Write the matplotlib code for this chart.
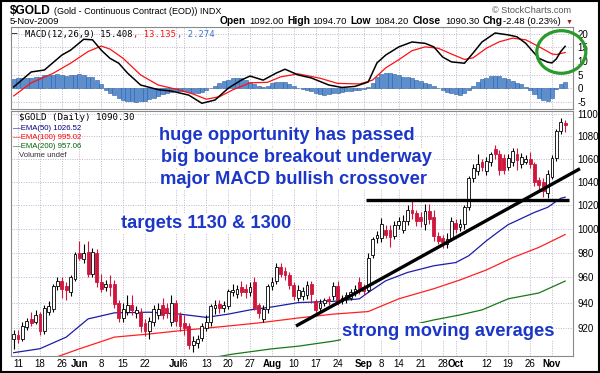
import numpy as np
import pandas as pd
import matplotlib
matplotlib.use("Agg")
from matplotlib import pyplot as plt
from matplotlib.patches import Ellipse, Rectangle
from matplotlib.ticker import NullLocator, FuncFormatter

# trading days shown (May 8 - Nov 5 2009)
holidays = ["2009-05-25", "2009-07-03", "2009-09-07"]
days = pd.bdate_range("2009-05-08", "2009-11-05")
days = days[~days.isin(pd.to_datetime(holidays))]
pos = {d.strftime("%Y-%m-%d"): i for i, d in enumerate(days)}

opens = [911.5, 915, 912, 921, 927, 925, 931, 918, 933, 935, 953, 957, 953, 948, 959, 980, 975, 981, 963, 980,
         956, 952, 955, 955, 940, 928, 933, 938, 932, 933, 924, 918, 925, 930, 938, 936, 925, 940, 930, 924,
         922, 907, 909, 913, 920, 925, 936, 939, 936, 937, 948, 947, 952, 951, 948, 956, 938, 927, 935, 953,
         957, 968, 965, 962, 954, 944, 945, 946, 955, 941, 936, 940, 943, 945, 953, 941, 943, 944, 948, 956,
         952, 950, 978, 992, 992, 999, 999, 994, 1003, 999, 1006, 1016, 1013, 1010, 1004, 1015, 1010, 994, 992, 987,
         992, 1005, 1001, 1004, 1018, 1043, 1049, 1057, 1049, 1057, 1069, 1064, 1061, 1053, 1057, 1064, 1055, 1057, 1060, 1055,
         1041, 1040, 1030, 1044, 1061, 1085, 1092]
highs = [919, 919, 925, 928, 933, 934, 933, 938, 941, 955, 960, 960, 956, 962, 981, 990, 987, 990, 984, 983,
         963, 958, 962, 958, 942, 940, 946, 946, 937, 936, 927, 929, 938, 940, 944, 940, 946, 942, 933, 930,
         924, 914, 915, 924, 930, 939, 942, 942, 941, 951, 955, 954, 957, 955, 956, 960, 940, 938, 955, 960,
         972, 972, 968, 964, 956, 954, 952, 957, 957, 943, 943, 944, 945, 956, 957, 946, 948, 951, 954, 960,
         955, 980, 993, 998, 1009, 1003, 1003, 1006, 1010, 1011, 1020, 1024, 1016, 1014, 1021, 1021, 1016, 997, 995, 996,
         1010, 1008, 1008, 1020, 1045, 1055, 1064, 1060, 1062, 1066, 1072, 1068, 1064, 1064, 1070, 1070, 1065, 1063, 1066, 1057,
         1044, 1043, 1050, 1063, 1087, 1097, 1094.7]
lows = [904, 909, 910, 919, 922, 923, 915, 916, 930, 933, 950, 944, 942, 945, 957, 974, 972, 960, 960, 952,
        948, 949, 945, 936, 925, 925, 930, 930, 928, 917, 914, 912, 922, 927, 927, 928, 922, 922, 918, 915,
        904, 902, 905, 910, 918, 922, 931, 932, 933, 935, 945, 944, 945, 944, 945, 934, 928, 925, 932, 950,
        955, 960, 958, 951, 942, 941, 942, 943, 940, 930, 933, 937, 938, 942, 938, 939, 940, 942, 945, 947,
        946, 948, 976, 988, 989, 992, 985, 991, 1000, 996, 1003, 1008, 1002, 1001, 999, 1004, 990, 987, 984, 984,
        990, 996, 998, 1000, 1016, 1040, 1046, 1049, 1046, 1054, 1060, 1046, 1047, 1050, 1054, 1050, 1052, 1055, 1052, 1036,
        1033, 1027, 1026, 1042, 1058, 1082, 1084.2]
closes = [915.5, 912, 922, 926, 924, 930, 918, 936, 937, 953, 957, 951, 950, 960, 979, 976, 980, 963, 981, 956,
          951, 955, 952, 939, 928, 935, 938, 934, 934, 922, 918, 926, 935, 935, 930, 932, 940, 926, 922, 920,
          907, 910, 912, 922, 925, 937, 938, 936, 938, 949, 950, 951, 948, 948, 952, 936, 932, 935, 953, 956,
          968, 963, 962, 954, 945, 950, 949, 954, 947, 934, 940, 942, 941, 953, 940, 944, 946, 948, 951, 950,
          949, 976, 991, 995, 1004, 995, 993, 1003, 1006, 1006, 1016, 1013, 1006, 1006, 1015, 1008, 994, 990, 989, 991,
          1006, 1000, 1004, 1018, 1043, 1052, 1055, 1053, 1058, 1064, 1064, 1050, 1050, 1061, 1067, 1059, 1062, 1060, 1055, 1040,
          1037, 1032, 1047, 1061, 1085, 1092.8, 1090.3]

ema50_dates = ["2009-05-08", "2009-05-18", "2009-05-27", "2009-06-03", "2009-06-11", "2009-06-23", "2009-07-02",
               "2009-07-13", "2009-07-20", "2009-07-27", "2009-08-03", "2009-08-11", "2009-08-21", "2009-08-31",
               "2009-09-02", "2009-09-09", "2009-09-16", "2009-09-24", "2009-10-01", "2009-10-06", "2009-10-12",
               "2009-10-15", "2009-10-19", "2009-10-27", "2009-10-30", "2009-11-04", "2009-11-05"]
ema50 = [901.5, 904.5, 913.3, 927.3, 932, 932.5, 931, 928.5, 931, 934.3, 936.6, 940, 941, 943,
         948, 957.3, 964, 969.4, 972, 977.6, 989.8, 998, 1003.3, 1013.6, 1017.9, 1025.6, 1026.52]
ema100_dates = ["2009-05-22", "2009-06-01", "2009-06-08", "2009-06-11", "2009-06-23", "2009-07-07", "2009-07-20",
                "2009-07-29", "2009-08-11", "2009-08-21", "2009-09-02", "2009-09-14", "2009-09-24", "2009-10-02",
                "2009-10-12", "2009-10-20", "2009-10-28", "2009-11-05"]
ema100 = [898.5, 904.4, 909.9, 913.3, 915.7, 918.9, 921.8, 924.2, 928, 931, 933, 943, 951, 958,
          966, 976, 984.4, 995.02]
ema200_dates = ["2009-07-14", "2009-07-21", "2009-08-03", "2009-08-11", "2009-08-21", "2009-09-09", "2009-09-24",
                "2009-10-02", "2009-10-09", "2009-10-19", "2009-10-28", "2009-11-05"]
ema200 = [897.5, 900.4, 904.4, 906.4, 910.2, 918, 926.5, 930.4, 934.3, 943, 947.6, 957.06]

macd_dates = ["2009-05-08", "2009-05-14", "2009-05-19", "2009-05-26", "2009-05-28", "2009-06-02", "2009-06-04",
              "2009-06-08", "2009-06-10", "2009-06-12", "2009-06-16", "2009-06-19", "2009-06-25", "2009-06-30",
              "2009-07-07", "2009-07-10", "2009-07-15", "2009-07-20", "2009-07-23", "2009-07-27", "2009-07-30",
              "2009-08-04", "2009-08-06", "2009-08-11", "2009-08-14", "2009-08-20", "2009-08-25", "2009-08-28",
              "2009-09-02", "2009-09-04", "2009-09-09", "2009-09-14", "2009-09-17", "2009-09-22", "2009-09-24",
              "2009-09-28", "2009-09-30", "2009-10-05", "2009-10-07", "2009-10-09", "2009-10-14", "2009-10-19",
              "2009-10-21", "2009-10-23", "2009-10-28", "2009-10-30", "2009-11-02", "2009-11-03", "2009-11-04",
              "2009-11-05"]
macd = [0.5, 6.0, 6.7, 12.2, 14.0, 18.0, 17.8, 14.0, 11.0, 9.2, 5.6, 1.2, -0.5, -1.0,
        -2.5, -5.5, -4.3, 0.0, 3.0, 4.5, 3.0, 5.6, 7.0, 4.9, 3.8, 1.2, 0.3, 0.7,
        2.3, 9.3, 12.2, 15.2, 17.0, 16.5, 15.2, 11.5, 9.7, 9.2, 13.0, 17.0, 20.3, 19.6,
        18.9, 16.5, 11.0, 9.6, 9.3, 10.8, 13.5, 15.408]
signal_dates = ["2009-05-08", "2009-05-14", "2009-05-21", "2009-05-28", "2009-06-03", "2009-06-08", "2009-06-10",
                "2009-06-15", "2009-06-19", "2009-06-25", "2009-07-01", "2009-07-08", "2009-07-13", "2009-07-16",
                "2009-07-21", "2009-07-27", "2009-07-31", "2009-08-05", "2009-08-11", "2009-08-18", "2009-08-24",
                "2009-08-31", "2009-09-03", "2009-09-09", "2009-09-14", "2009-09-17", "2009-09-22", "2009-09-25",
                "2009-09-30", "2009-10-05", "2009-10-07", "2009-10-12", "2009-10-15", "2009-10-20", "2009-10-23",
                "2009-10-28", "2009-11-02", "2009-11-03", "2009-11-05"]
signal = [-2.8, 2.0, 5.5, 9.2, 13.5, 15.5, 14.4, 11.0, 4.9, 1.2, -0.3, -2.1, -4.0, -3.1,
          -0.6, 2.0, 2.2, 4.2, 5.3, 3.7, 1.8, 1.6, 3.0, 7.5, 10.5, 13.8, 15.2, 14.7,
          12.6, 10.6, 11.2, 14.7, 17.1, 18.4, 17.8, 15.3, 12.6, 12.4, 13.135]
hist = [3.5, 3.8, 3.8, 3.9, 3.8, 4.2, 4.3, 4.8, 4.9, 5.0, 5.1, 4.8, 4.6, 4.7, 4.9, 5.2, 5.0, 4.2, 4.0, 3.0,
        1.5, -0.5, -1.8, -2.5, -3.4, -4.2, -4.6, -4.8, -4.9, -4.8, -4.5, -4.1, -3.5, -2.8, -2.2, -1.6, -1.2, -0.9, -1.0, -0.9,
        -1.5, -1.8, -1.7, -1.2, -0.8, 0.2, 1.0, 1.8, 2.6, 3.2, 3.8, 3.9, 3.7, 3.0, 2.4, 1.5, 0.7, 0.5, 1.0, 1.8,
        2.3, 2.4, 2.2, 1.6, 0.8, 0.1, -0.4, -0.6, -1.0, -1.6, -2.1, -2.3, -2.2, -1.8, -1.7, -1.2, -1.0, -0.9, -0.8, -0.5,
        -0.3, 0.6, 2.0, 4.0, 5.2, 5.6, 5.7, 5.3, 4.7, 4.3, 4.0, 3.6, 3.2, 2.6, 2.0, 1.4, 0.8, 0.1, -0.8, -1.5,
        -1.9, -2.2, -2.3, -1.8, -0.6, 0.9, 2.4, 3.3, 3.9, 4.5, 4.6, 4.4, 3.9, 3.4, 2.7, 2.0, 1.4, 0.4, -0.8, -2.0,
        -3.4, -4.3, -4.7, -3.6, -0.3, 1.4, 2.274]

tick_dates = ["2009-05-11", "2009-05-18", "2009-05-26", "2009-06-01", "2009-06-08", "2009-06-15", "2009-06-22",
              "2009-07-01", "2009-07-06", "2009-07-13", "2009-07-20", "2009-07-27", "2009-08-03", "2009-08-10",
              "2009-08-17", "2009-08-24", "2009-09-01", "2009-09-08", "2009-09-14", "2009-09-21", "2009-09-28",
              "2009-10-01", "2009-10-12", "2009-10-19", "2009-10-26", "2009-11-02"]
tick_labels = ["11", "18", "26", "Jun", "8", "15", "22", "Jul", "6", "13", "20", "27", "Aug", "10",
               "17", "24", "Sep", "8", "14", "21", "28", "Oct", "12", "19", "26", "Nov"]
price_ticks = [920, 940, 960, 980, 1000, 1020, 1040, 1060, 1080, 1100]
macd_ticks = [-5, 0, 5, 10, 15, 20]

# hand drawn lines (trading day position, price)
support = ([64.5, 129.4], [921.8, 1051.3])
resistance = ([80.5, 126.8], [1024.5, 1024.5])

plt.rcParams['font.family'] = ['Liberation Sans', 'DejaVu Sans']
RED = '#d0163c'
GRID = '#bdb4cc'
W, H = 600, 373


def fx(px):
    return px / W


def fy(py):
    return 1 - py / H


fig = plt.figure(figsize=(6, 3.73), dpi=100)
ax1 = fig.add_axes([fx(11), fy(109), fx(573) - fx(11), fy(27) - fy(109)])
ax2 = fig.add_axes([fx(11), fy(356), fx(573) - fx(11), fy(111) - fy(356)])

x = np.arange(len(days))
tpos = [pos[d] for d in tick_dates]

# ---- MACD panel
h = np.array(hist)
ax1.bar(x, h, width=0.92, color='#5a8fd2', edgecolor='#2f5e9e', linewidth=0.4, zorder=2)
ax1.plot([pos[d] for d in macd_dates], macd, color='black', lw=1.1, zorder=4)
ax1.plot([pos[d] for d in signal_dates], signal, color='#ff1010', lw=0.9, zorder=3)
ax1.set_ylim(-7.6, 22.5)
ax1.set_yticks(macd_ticks)
ax1.set_yticklabels([str(t) for t in macd_ticks])

# ---- price panel
o = np.array(opens, dtype=float)
c = np.array(closes, dtype=float)
hi = np.array(highs, dtype=float)
lo = np.array(lows, dtype=float)
up = c >= o
blo = np.minimum(o, c)
bh = np.maximum(np.abs(c - o), 0.7)
ax2.set_yscale('log')
ax2.vlines(x[up], lo[up], hi[up], colors='black', lw=0.8, zorder=3)
ax2.vlines(x[~up], lo[~up], hi[~up], colors=RED, lw=0.8, zorder=3)
ax2.bar(x[up], bh[up], bottom=blo[up], width=0.64, facecolor='white', edgecolor='black', linewidth=0.6, zorder=4)
ax2.bar(x[~up], bh[~up], bottom=blo[~up], width=0.64, facecolor=RED, edgecolor=RED, linewidth=0.6, zorder=4)

ax2.plot([pos[d] for d in ema50_dates], ema50, color='#1c1ca8', lw=0.9, zorder=2)
ax2.plot([pos[d] for d in ema100_dates], ema100, color='#ff2020', lw=0.9, zorder=2)
ax2.plot([pos[d] for d in ema200_dates], ema200, color='#187818', lw=0.9, zorder=2)

ax2.plot(*support, color='black', lw=2.4, solid_capstyle='butt', clip_on=False, zorder=6)
ax2.plot(*resistance, color='black', lw=2.4, solid_capstyle='butt', clip_on=False, zorder=6)

ax2.set_ylim(899, 1103.2)
ax2.yaxis.set_minor_locator(NullLocator())
ax2.set_yticks(price_ticks)
ax2.yaxis.set_major_formatter(FuncFormatter(lambda v, p: "%d" % round(v)))
ax2.set_xticks(tpos)
ax2.set_xticklabels(tick_labels)
for lab in ax2.get_xticklabels():
    if lab.get_text() in ("Jun", "Jul", "Aug", "Sep", "Oct", "Nov"):
        lab.set_fontweight('bold')

for ax in (ax1, ax2):
    ax.set_xlim(-0.62, 127.8)
    ax.yaxis.tick_right()
    ax.tick_params(axis='y', length=0, pad=3, labelsize=7)
    ax.tick_params(axis='x', length=0, pad=2, labelsize=7)
    for t in tpos:
        ax.axvline(t, color=GRID, lw=0.7, ls=(0, (1, 1.5)), zorder=0)
    for s in ax.spines.values():
        s.set_color('#8a8a8a')
        s.set_linewidth(0.8)
ax1.set_xticks([])
for t in macd_ticks:
    ax1.axhline(t, color=GRID, lw=0.7, ls=(0, (1, 1.5)), zorder=0)
for t in price_ticks:
    ax2.axhline(t, color=GRID, lw=0.7, ls=(0, (1, 1.5)), zorder=0)

# ---- header texts
fig.text(fx(10), fy(13.5), "$GOLD", fontsize=8.6, fontweight='bold', va='baseline')
fig.text(fx(54), fy(13.5), "(Gold - Continuous Contract (EOD)) INDX", fontsize=6.5, va='baseline')
fig.text(fx(492), fy(13), "\u00a9 StockCharts.com", fontsize=6.6, color='#555555', va='baseline')
fig.text(fx(10), fy(24.5), "5-Nov-2009", fontsize=6.8, va='baseline')
hdr = [("Open", 220, True), ("1092.00", 249, False), ("High", 287, True), ("1094.70", 312, False),
       ("Low", 350, True), ("1084.20", 374, False), ("Close", 413, True), ("1090.30", 445, False),
       ("Chg", 483, True), ("-2.48 (0.23%)", 503, False)]
for s, px, b in hdr:
    fig.text(fx(px), fy(24.5), s, fontsize=7.4 if b else 6.8,
             fontweight='bold' if b else 'normal', va='baseline')
fig.text(fx(566), fy(24), "\u25bc", fontsize=5, color='#b01030', va='baseline')

mono = ['DejaVu Sans Mono']
fig.text(fx(12), fy(36.5), "\u2014", fontsize=6.4, family=mono, va='baseline')
fig.text(fx(25), fy(36.5), "MACD(12,26,9) 15.408", fontsize=6.4, family=mono, va='baseline')
fig.text(fx(133), fy(36.5), ", 13.135", fontsize=6.4, family=mono, color='#ff1010', va='baseline')
fig.text(fx(177), fy(36.5), ", 2.274", fontsize=6.4, family=mono, color='#3a7ad0', va='baseline')

fig.text(fx(19), fy(120), "$GOLD (Daily) 1090.30", fontsize=6.6, family=mono, va='baseline')
fig.text(fx(13), fy(129.5), "\u2014EMA(50) 1026.52", fontsize=5.6, color='#000080', va='baseline')
fig.text(fx(13), fy(139), "\u2014EMA(100) 995.02", fontsize=5.6, color='#ff0000', va='baseline')
fig.text(fx(13), fy(148), "\u2014EMA(200) 957.06", fontsize=5.6, color='#006400', va='baseline')
fig.text(fx(19), fy(157), "Volume undef", fontsize=5.6, color='#333333', va='baseline')

# ---- annotations
BLUE = '#1c36c8'
box = dict(facecolor='white', edgecolor='none', pad=0.5)
notes = [("huge opportunity has passed", 159, 140), ("big bounce breakout underway", 161, 162.5),
         ("major MACD bullish crossover", 160, 184), ("targets 1130 & 1300", 121, 228),
         ("strong moving averages", 342, 336.5)]
for s, px, py in notes:
    fig.text(fx(px), fy(py), s, fontsize=13.2, fontweight='bold', color=BLUE,
             va='baseline', bbox=box, zorder=10)

fig.add_artist(Ellipse((fx(561.3), fy(52)), 49 / W, 42.6 / H, transform=fig.transFigure,
                       fill=False, ec='#2a9a2a', lw=2.3))
fig.add_artist(Rectangle((0.001, 0.002), 0.997, 0.995, transform=fig.transFigure,
                         fill=False, ec='black', lw=1.5))

fig.savefig("out.png", dpi=100)
